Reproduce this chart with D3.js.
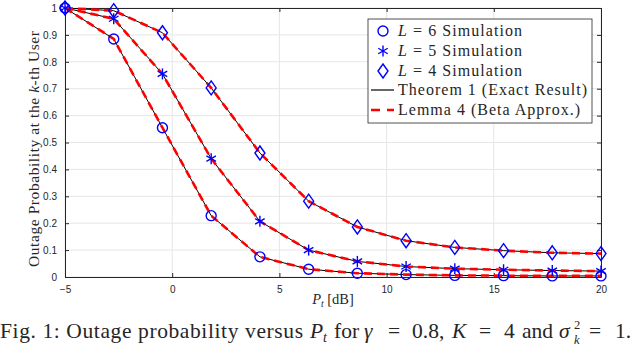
<!DOCTYPE html>
<html>
<head>
<meta charset="utf-8">
<script src="https://d3js.org/d3.v7.min.js"></script>
<style>
body { margin: 0; background: white; }
svg text { fill: #262626; }
.tick text { font-family: "Liberation Sans", Arial, sans-serif; font-size: 10px; }
.serif { font-family: "Liberation Serif", "Times New Roman", serif; }
</style>
</head>
<body>
<svg id="chart" width="640" height="347"></svg>
<script>
// transmit power in dB
var pt = [-5, -2.727, -0.455, 1.818, 4.091, 6.364, 8.636, 10.909, 13.182, 15.455, 17.727, 20];
var outL6 = [1.0, 0.885, 0.555, 0.228, 0.075, 0.029, 0.014, 0.009, 0.006, 0.005, 0.004, 0.004];
var outL5 = [1.0, 0.96, 0.755, 0.44, 0.207, 0.100, 0.058, 0.039, 0.031, 0.027, 0.024, 0.022];
var outL4 = [1.0, 0.99, 0.908, 0.703, 0.461, 0.282, 0.186, 0.135, 0.110, 0.098, 0.090, 0.087];
var xTicks = [-5, 0, 5, 10, 15, 20];
var yTicks = [0, 0.1, 0.2, 0.3, 0.4, 0.5, 0.6, 0.7, 0.8, 0.9, 1];
var legendLabels = ["L = 6 Simulation", "L = 5 Simulation", "L = 4 Simulation", "Theorem 1 (Exact Result)", "Lemma 4 (Beta Approx.)"];

var svg = d3.select("#chart");
var mLeft = 65, mRight = 601, mTop = 8, mBottom = 277;

var x = d3.scaleLinear().domain([-5, 20]).range([mLeft, mRight]);
var y = d3.scaleLinear().domain([0, 1]).range([mBottom, mTop]);

// grid
var g = svg.append("g");
g.selectAll(".gx").data(xTicks).enter().append("line")
  .attr("x1", d => x(d)).attr("x2", d => x(d)).attr("y1", mTop).attr("y2", mBottom)
  .attr("stroke", "#e6e6e6").attr("stroke-width", 1);
g.selectAll(".gy").data(yTicks).enter().append("line")
  .attr("y1", d => y(d)).attr("y2", d => y(d)).attr("x1", mLeft).attr("x2", mRight)
  .attr("stroke", "#e6e6e6").attr("stroke-width", 1);

// axes
function styleAxis(sel) {
  sel.select(".domain").attr("stroke", "#262626");
  sel.selectAll(".tick line").attr("stroke", "#262626");
}
svg.append("g").attr("transform", "translate(0," + mBottom + ")")
  .call(d3.axisBottom(x).tickValues(xTicks).tickSize(-4).tickSizeOuter(0).tickPadding(9).tickFormat(d3.format("d")))
  .call(styleAxis);
svg.append("g").attr("transform", "translate(0," + mTop + ")")
  .call(d3.axisTop(x).tickValues(xTicks).tickSize(-4).tickSizeOuter(0).tickFormat(""))
  .call(styleAxis);
svg.append("g").attr("transform", "translate(" + mLeft + ",0)")
  .call(d3.axisLeft(y).tickValues(yTicks).tickSize(-4).tickSizeOuter(0).tickPadding(8).tickFormat(d => d === 0 || d === 1 ? d : d3.format(".1f")(d)))
  .call(styleAxis);
svg.append("g").attr("transform", "translate(" + mRight + ",0)")
  .call(d3.axisRight(y).tickValues(yTicks).tickSize(-4).tickSizeOuter(0).tickFormat(""))
  .call(styleAxis);
svg.selectAll(".tick text").attr("fill", "#262626");

var series = [outL6, outL5, outL4];
var line = d3.line().x((d, i) => x(pt[i])).y(d => y(d));

series.forEach(function(s) {
  svg.append("path").datum(s).attr("d", line)
    .attr("fill", "none").attr("stroke", "black").attr("stroke-width", 1);
});
series.forEach(function(s) {
  svg.append("path").datum(s).attr("d", line)
    .attr("fill", "none").attr("stroke", "#ff0000").attr("stroke-width", 2.6)
    .attr("stroke-dasharray", "8,5");
});

function drawMarker(sel, kind, cx, cy) {
  if (kind === 0) {
    sel.append("circle").attr("cx", cx).attr("cy", cy).attr("r", 5)
      .attr("fill", "none").attr("stroke", "#0000ff").attr("stroke-width", 1.4);
  } else if (kind === 1) {
    var r = 5.5;
    [0, 60, 120].forEach(function(a) {
      var rad = a * Math.PI / 180;
      sel.append("line")
        .attr("x1", cx - r * Math.sin(rad)).attr("y1", cy - r * Math.cos(rad))
        .attr("x2", cx + r * Math.sin(rad)).attr("y2", cy + r * Math.cos(rad))
        .attr("stroke", "#0000ff").attr("stroke-width", 1.4);
    });
  } else {
    var w = 5, h = 7;
    sel.append("path")
      .attr("d", "M" + cx + "," + (cy - h) + "L" + (cx + w) + "," + cy + "L" + cx + "," + (cy + h) + "L" + (cx - w) + "," + cy + "Z")
      .attr("fill", "none").attr("stroke", "#0000ff").attr("stroke-width", 1.4);
  }
}

var mk = svg.append("g");
series.forEach(function(s, k) {
  s.forEach(function(v, i) { drawMarker(mk, k, x(pt[i]), y(v)); });
});

// legend
var lg = svg.append("g");
lg.append("rect").attr("x", 368).attr("y", 19).attr("width", 224).attr("height", 104)
  .attr("fill", "white").attr("stroke", "#262626").attr("stroke-width", 0.8);
var ly = [31, 51, 71, 90, 110];
var lw = [124, 124, 124, 189, 182];
for (var k = 0; k < 3; k++) drawMarker(lg, k, 383, ly[k]);
lg.append("line").attr("x1", 371).attr("x2", 394).attr("y1", ly[3]).attr("y2", ly[3])
  .attr("stroke", "black").attr("stroke-width", 1.2);
lg.append("line").attr("x1", 371).attr("x2", 394).attr("y1", ly[4]).attr("y2", ly[4])
  .attr("stroke", "#ff0000").attr("stroke-width", 2.6).attr("stroke-dasharray", "9,7");
legendLabels.forEach(function(t, i) {
  var tx = lg.append("text").attr("class", "serif").attr("x", 398).attr("y", ly[i] + 5)
    .style("font-size", "16px").attr("fill", "#111")
    .attr("textLength", lw[i]).attr("lengthAdjust", "spacing");
  if (i < 3) {
    tx.append("tspan").style("font-style", "italic").text("L");
    tx.append("tspan").text(t.slice(1));
  } else {
    tx.text(t);
  }
});

// axis labels
var yl = svg.append("text").attr("class", "serif")
  .attr("transform", "translate(39,149) rotate(-90)")
  .attr("text-anchor", "middle").style("font-size", "15.5px")
  .attr("textLength", 236).attr("lengthAdjust", "spacing");
yl.append("tspan").text("Outage Probability at the ");
yl.append("tspan").style("font-style", "italic").text("k");
yl.append("tspan").text("-th User");

var xl = svg.append("text").attr("class", "serif")
  .attr("x", 333).attr("y", 304).attr("text-anchor", "middle").style("font-size", "14.5px");
xl.append("tspan").style("font-style", "italic").text("P");
xl.append("tspan").style("font-size", "9.5px").attr("dy", 3).style("font-style", "italic").text("t");
xl.append("tspan").attr("dy", -3).text(" [dB]");

// caption
var capY = 338;
var cap = svg.append("g").attr("class", "serif").style("font-size", "21.5px");
function capText(tx, px, dy, italic, size) {
  var t = cap.append("text").attr("x", px).attr("y", capY + (dy || 0)).attr("fill", "#000").text(tx);
  if (italic) t.style("font-style", "italic");
  if (size) t.style("font-size", size + "px");
  return t;
}
capText("Fig. 1: Outage probability versus", 0).attr("textLength", 303).attr("lengthAdjust", "spacing");
capText("P", 310, 0, true);
capText("t", 323, 4, true, 14);
capText("for", 334);
capText("γ", 364, 0, true);
capText("=", 388);
capText("0.8,", 412);
capText("K", 452, 0, true);
capText("=", 479);
capText("4", 504);
capText("and", 522);
capText("σ", 559, 0, true);
capText("2", 574, -9, false, 12.5);
capText("k", 574, 6, true, 12.5);
capText("=", 589);
capText("1.", 615);
</script>
</body>
</html>
